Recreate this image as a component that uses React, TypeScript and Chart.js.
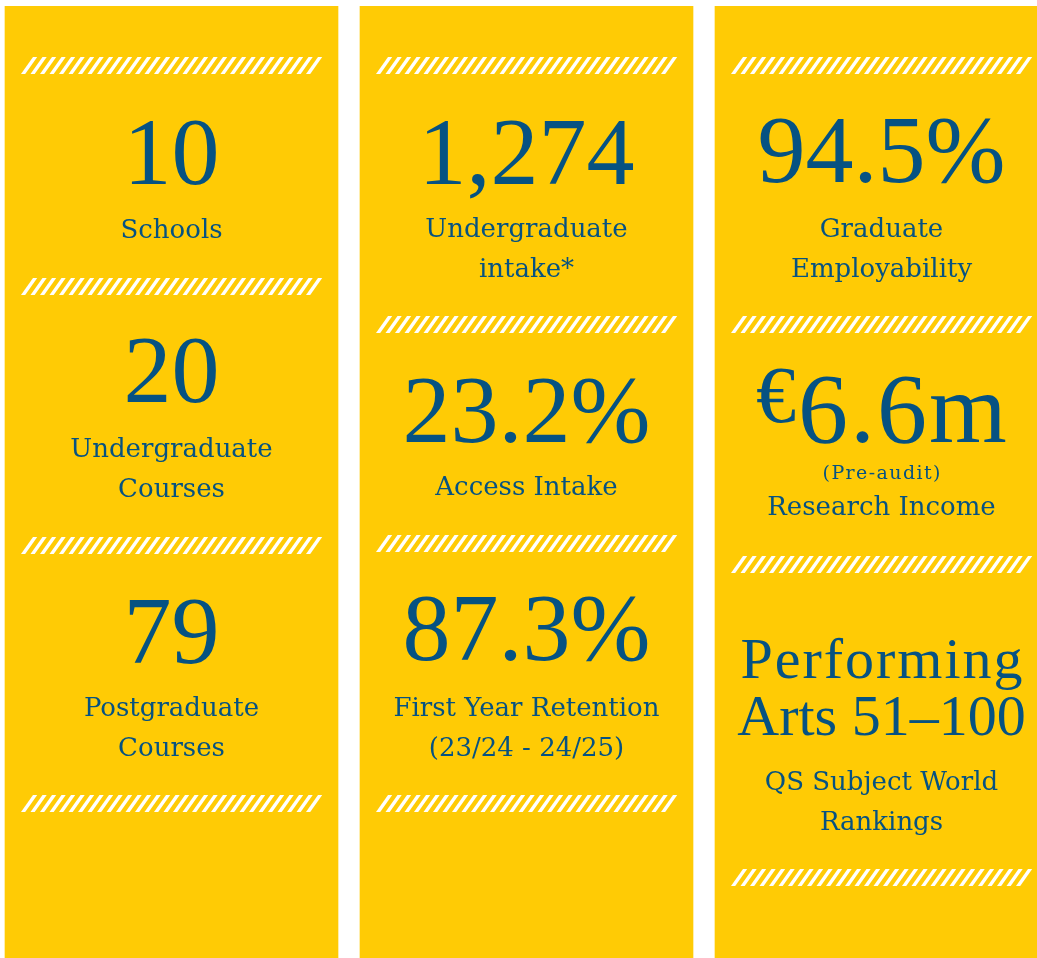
import React, { useEffect, useRef } from "react";
import { Chart, registerables } from "chart.js";

Chart.register(...registerables);

// ---------- data ----------
const columns = ["Schools & courses", "Intake & retention", "Outcomes & research"];
const panelHeights = [1, 1, 1];

const leftFigures = ["10", "20", "79"];
const leftCaptions = [["Schools"], ["Undergraduate", "Courses"], ["Postgraduate", "Courses"]];

const middleFigures = ["1,274", "23.2%", "87.3%"];
const middleCaptions = [["Undergraduate", "intake*"], ["Access Intake"], ["First Year Retention", "(23/24 - 24/25)"]];

const rightFigures = ["94.5%", "€6.6m", "Performing|Arts 51–100"];
const rightNotes = ["", "(Pre-audit)", ""];
const rightCaptions = [["Graduate", "Employability"], ["Research Income"], ["QS Subject World", "Rankings"]];

const allFigures = [leftFigures, middleFigures, rightFigures];
const allCaptions = [leftCaptions, middleCaptions, rightCaptions];
const allNotes = [["", "", ""], ["", "", ""], rightNotes];

// ---------- layout / style ----------
const W = 1037;
const H = 958;
const PANEL_W = 333;
const PITCH = 355;
const FIRST_CENTER = 171.5;
const YELLOW = "#FFCB05";
const BLUE = "#065282";
const FIG_FONT = '"Liberation Serif", "Times New Roman", serif';
const CAP_FONT = '"DejaVu Serif", "Liberation Serif", serif';
const multiLineSpacing = [2, 0];

const stripeTops = [
  [57, 278, 537, 795],
  [57, 316, 535, 795],
  [57, 316, 556, 869],
];
const figureBaselines = [
  [184, 402, 663],
  [184, 442, 660],
  [182, 442, 678],
];
const captionBaselines = [
  [238, 457, 716],
  [237, 495, 716],
  [237, 515, 790],
];
const noteBaseline = 479;

function drawStripes(ctx: CanvasRenderingContext2D, left: number, top: number) {
  ctx.save();
  ctx.fillStyle = "#FFFFFF";
  const count = 31;
  const step = 9.5;
  const h = 17;
  const dx = 12;
  const t = 4.2;
  for (let k = 0; k < count; k++) {
    const bx = left + 16 + k * step;
    ctx.beginPath();
    ctx.moveTo(bx, top + h);
    ctx.lineTo(bx + t, top + h);
    ctx.lineTo(bx + t + dx, top);
    ctx.lineTo(bx + dx, top);
    ctx.closePath();
    ctx.fill();
  }
  ctx.restore();
}

function setFont(ctx: CanvasRenderingContext2D, family: string, size: number, spacing: number) {
  ctx.font = `normal ${size}px ${family}`;
  (ctx as any).letterSpacing = `${spacing}px`;
}

function centered(ctx: CanvasRenderingContext2D, text: string, cx: number, y: number, spacing: number) {
  const w = ctx.measureText(text).width;
  ctx.textAlign = "left";
  ctx.fillText(text, cx - (w - spacing) / 2, y);
}

const infoPlugin = {
  id: "infoPanels",
  afterDatasetsDraw(chart: any) {
    const ctx: CanvasRenderingContext2D = chart.ctx;
    const meta = chart.getDatasetMeta(0);
    meta.data.forEach((bar: any, i: number) => {
      const { x, width } = bar.getProps(["x", "width"], true);
      const left = x - width / 2;
      stripeTops[i].forEach((top) => drawStripes(ctx, left, top));
      ctx.save();
      ctx.fillStyle = BLUE;
      ctx.textBaseline = "alphabetic";
      allFigures[i].forEach((fig, j) => {
        const base = figureBaselines[i][j];
        if (fig.includes("|")) {
          const lines = fig.split("|");
          lines.forEach((ln, k) => {
            const sp = multiLineSpacing[k] ?? 0;
            setFont(ctx, FIG_FONT, 58, sp);
            centered(ctx, ln, x, base + k * 57, sp);
          });
        } else if (fig.startsWith("€")) {
          setFont(ctx, FIG_FONT, 80, 0);
          const wE = ctx.measureText("€").width;
          setFont(ctx, FIG_FONT, 100, 1);
          const rest = fig.slice(1);
          const wR = ctx.measureText(rest).width;
          const start = x - (wE + wR) / 2 - 2;
          setFont(ctx, FIG_FONT, 80, 0);
          ctx.textAlign = "left";
          ctx.fillText("€", start, base - 20);
          setFont(ctx, FIG_FONT, 100, 2);
          ctx.fillText(rest, start + wE + 2, base);
        } else {
          setFont(ctx, FIG_FONT, 96, 0);
          centered(ctx, fig, x, base, 0);
        }
        const note = allNotes[i][j];
        if (note) {
          setFont(ctx, CAP_FONT, 19, 1.4);
          centered(ctx, note, x, noteBaseline, 1.4);
        }
        setFont(ctx, CAP_FONT, 26, 0);
        allCaptions[i][j].forEach((cap, k) => centered(ctx, cap, x, captionBaselines[i][j] + k * 40, 0));
      });
      ctx.restore();
    });
  },
};

export default function App() {
  const ref = useRef<HTMLCanvasElement | null>(null);
  useEffect(() => {
    document.body.style.margin = "0";
    document.body.style.overflow = "hidden";
    if (!ref.current) return;
    const min = -FIRST_CENTER / PITCH;
    const max = (W - FIRST_CENTER) / PITCH;
    const chart = new Chart(ref.current, {
      type: "bar",
      data: {
        labels: columns,
        datasets: [
          {
            label: "panels",
            data: columns.map((_, i) => ({ x: i, y: panelHeights[i] })) as any,
            backgroundColor: YELLOW,
            borderWidth: 0,
            barThickness: PANEL_W,
          },
        ],
      },
      options: {
        responsive: false,
        animation: false,
        layout: { padding: { top: 6, left: 0, right: 0, bottom: 0 } },
        plugins: { legend: { display: false }, tooltip: { enabled: false } },
        scales: {
          x: { type: "linear", min, max, display: false, offset: false },
          y: { min: 0, max: 1, display: false },
        },
      },
      plugins: [infoPlugin],
    });
    return () => chart.destroy();
  }, []);
  return (
    <div style={{ position: "absolute", left: 0, top: 0, width: W, height: H, background: "#fff" }}>
      <canvas ref={ref} width={W} height={H} style={{ display: "block", width: W, height: H }} />
    </div>
  );
}
